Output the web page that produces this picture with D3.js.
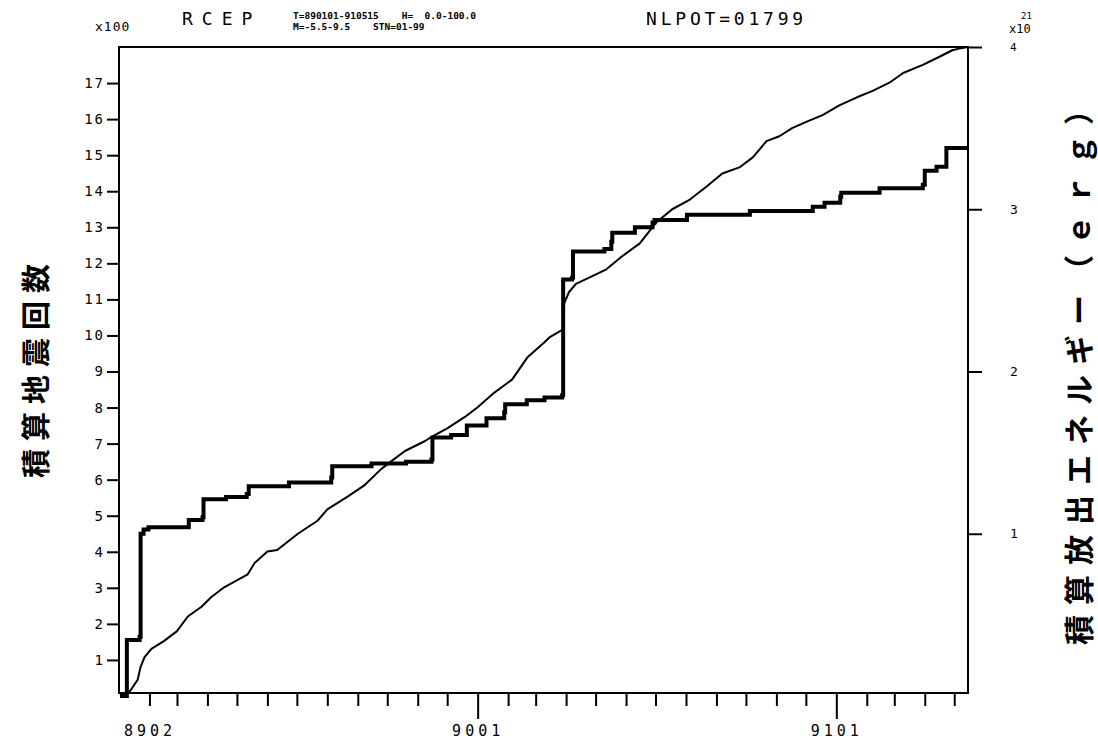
<!DOCTYPE html>
<html>
<head>
<meta charset="utf-8">
<script src="https://cdn.jsdelivr.net/npm/d3@7"></script>
<style>
  html, body { margin: 0; padding: 0; background: #fff; }
  svg { display: block; }
</style>
</head>
<body>
<svg id="chart" width="1098" height="745"></svg>
<script>
// ---- Data ----
// Cumulative number of earthquakes (x100), step series
const countDates = [
  "1989-01-02","1989-01-09","1989-01-22","1989-01-23","1989-01-26","1989-01-31",
  "1989-03-13","1989-03-27","1989-03-28","1989-04-20","1989-05-11","1989-05-13",
  "1989-06-23","1989-08-05","1989-08-06","1989-09-15","1989-10-20","1989-11-15",
  "1989-11-16","1989-12-05","1989-12-21","1990-01-10","1990-01-28","1990-01-29",
  "1990-02-20","1990-03-10","1990-03-28","1990-03-29","1990-04-07","1990-04-08",
  "1990-05-10","1990-05-17","1990-05-18","1990-06-10","1990-06-28","1990-06-30",
  "1990-08-02","1990-10-05","1990-12-08","1990-12-20","1991-01-05","1991-01-06",
  "1991-02-14","1991-03-30","1991-04-01","1991-04-13","1991-04-23","1991-05-15"
];
const countValues = [
  0.0, 1.55, 1.64, 4.50, 4.62, 4.68,
  4.88, 4.96, 5.46, 5.52, 5.60, 5.82,
  5.92, 6.06, 6.37, 6.45, 6.50, 6.56,
  7.17, 7.24, 7.50, 7.70, 7.87, 8.09,
  8.20, 8.28, 8.34, 11.55, 11.60, 12.33,
  12.40, 12.60, 12.85, 13.00, 13.13, 13.20,
  13.35, 13.45, 13.57, 13.68, 13.85, 13.96,
  14.08, 14.18, 14.57, 14.68, 15.20, 15.20
];

// Cumulative released energy (x10^21 erg)
const energyDates = [
  "1989-01-02","1989-01-10","1989-01-20","1989-01-23","1989-01-27","1989-02-03",
  "1989-02-16","1989-03-01","1989-03-12","1989-03-26","1989-04-05","1989-04-18",
  "1989-05-12","1989-05-19","1989-06-01","1989-06-11","1989-07-02","1989-07-22",
  "1989-08-01","1989-08-22","1989-09-08","1989-09-25","1989-10-08","1989-10-19",
  "1989-11-08","1989-11-16","1989-12-01","1989-12-19","1990-01-01","1990-01-18",
  "1990-02-05","1990-02-21","1990-03-10","1990-03-15","1990-03-29","1990-03-30",
  "1990-04-04","1990-04-11","1990-04-25","1990-05-12","1990-05-28","1990-06-15",
  "1990-07-02","1990-07-18","1990-08-05","1990-08-22","1990-09-07","1990-09-25",
  "1990-10-08","1990-10-22","1990-11-04","1990-11-17","1990-12-02","1990-12-18",
  "1991-01-04","1991-01-22","1991-02-07","1991-02-24","1991-03-10","1991-03-30",
  "1991-04-16","1991-04-29","1991-05-06","1991-05-15"
];
const energyValues = [
  0.00, 0.01, 0.10, 0.18, 0.24, 0.29,
  0.34, 0.40, 0.49, 0.55, 0.61, 0.67,
  0.75, 0.82, 0.89, 0.90, 1.00, 1.08,
  1.15, 1.23, 1.30, 1.40, 1.46, 1.51,
  1.57, 1.60, 1.65, 1.72, 1.78, 1.87,
  1.95, 2.09, 2.18, 2.21, 2.26, 2.42,
  2.49, 2.54, 2.58, 2.63, 2.71, 2.79,
  2.92, 3.00, 3.06, 3.14, 3.22, 3.26,
  3.32, 3.42, 3.45, 3.50, 3.54, 3.58,
  3.64, 3.69, 3.73, 3.78, 3.84, 3.89,
  3.94, 3.98, 3.99, 4.00
];

// Axis ticks / labels
const leftTickValues = [1,2,3,4,5,6,7,8,9,10,11,12,13,14,15,16,17];
const rightTickValues = [1,2,3,4];
const xLabelDates = ["1989-02-01","1990-01-01","1991-01-01"];
const xLabels = ["8902","9001","9101"];

const headerTitle = "RCEP";
const headerLine1 = "T=890101-910515    H=  0.0-100.0";
const headerLine2 = "M=-5.5-9.5    STN=01-99";
const headerCount = "NLPOT=01799";
const leftUnit = "x100";
const rightUnit = "x10";
const rightUnitExp = "21";
const leftTitle = "積算地震回数";
const rightTitle = "積算放出エネルギー（ｅｒｇ）";

// ---- Drawing ----
const parse = d3.utcParse("%Y-%m-%d");
const svg = d3.select("#chart");
const W = 1098, H = 745;
const plot = { left: 119, right: 968, top: 47, bottom: 693 };
const mono = "'DejaVu Sans Mono', 'Liberation Mono', monospace";
const cjk = "'Noto Sans CJK JP', 'Noto Sans CJK SC', sans-serif";

svg.append("rect").attr("width", W).attr("height", H).attr("fill", "#fff");

const x = d3.scaleUtc()
  .domain([parse("1989-01-01"), parse("1991-05-15")])
  .range([plot.left, plot.right]);
const yCount = d3.scaleLinear().domain([0, 18]).range([696, plot.top]);
const yEnergy = d3.scaleLinear().domain([0, 4]).range([696, plot.top]);

// frame
svg.append("rect")
  .attr("x", plot.left).attr("y", plot.top)
  .attr("width", plot.right - plot.left).attr("height", plot.bottom - plot.top)
  .attr("fill", "none").attr("stroke", "#000").attr("stroke-width", 2);

// left axis
const gL = svg.append("g").attr("transform", `translate(${plot.left},0)`)
  .call(d3.axisLeft(yCount).tickValues(leftTickValues).tickSize(12).tickPadding(2)
    .tickFormat(d => String(d)));
gL.select(".domain").remove();
gL.selectAll(".tick line").attr("stroke", "#000").attr("stroke-width", 2);
gL.selectAll(".tick text").attr("font-family", mono).attr("font-size", 14)
  .attr("letter-spacing", 2).attr("fill", "#000");

// right axis
const gR = svg.append("g").attr("transform", `translate(${plot.right},0)`)
  .call(d3.axisRight(yEnergy).tickValues(rightTickValues).tickSize(14).tickPadding(28)
    .tickFormat(d => String(d)));
gR.select(".domain").remove();
gR.selectAll(".tick line").attr("stroke", "#000").attr("stroke-width", 2);
gR.selectAll(".tick text").attr("font-family", mono).attr("font-size", 13).attr("fill", "#000");
gR.selectAll(".tick").filter(d => d === 4).select("text").attr("font-size", 11);

// bottom axis: monthly ticks, long ticks at January
const months = d3.utcMonth.range(parse("1989-02-01"), parse("1991-05-15"));
const labelMap = new Map(xLabelDates.map((d, i) => [parse(d).getTime(), xLabels[i]]));
const gB = svg.append("g").attr("transform", `translate(0,${plot.bottom})`)
  .call(d3.axisBottom(x).tickValues(months).tickSize(13).tickPadding(19)
    .tickFormat(d => labelMap.get(d.getTime()) || ""));
gB.select(".domain").remove();
gB.selectAll(".tick line").attr("stroke", "#000").attr("stroke-width", 2)
  .attr("y2", d => d.getUTCMonth() === 0 ? 26 : 13);
gB.selectAll(".tick text").attr("font-family", mono).attr("font-size", 15)
  .attr("letter-spacing", 4).attr("fill", "#000");

// series
const countData = countDates.map((d, i) => ({ date: parse(d), v: countValues[i] }));
const energyData = energyDates.map((d, i) => ({ date: parse(d), v: energyValues[i] }));

svg.append("path").datum(energyData)
  .attr("fill", "none").attr("stroke", "#000").attr("stroke-width", 2)
  .attr("stroke-linejoin", "round")
  .attr("d", d3.line().x(d => x(d.date)).y(d => yEnergy(d.v)));

svg.append("path").datum(countData)
  .attr("fill", "none").attr("stroke", "#000").attr("stroke-width", 4)
  .attr("d", d3.line().curve(d3.curveStepAfter).x(d => x(d.date)).y(d => yCount(d.v)));

// header
svg.append("text").attr("x", 95).attr("y", 31).attr("font-family", mono)
  .attr("font-size", 13).attr("letter-spacing", 1).text(leftUnit);
svg.append("text").attr("x", 182).attr("y", 25).attr("font-family", mono)
  .attr("font-size", 18).attr("letter-spacing", 9).text(headerTitle);
svg.append("text").attr("x", 293).attr("y", 19).attr("font-family", mono)
  .attr("font-size", 9.5).attr("font-weight", "bold")
  .style("white-space", "pre").text(headerLine1);
svg.append("text").attr("x", 293).attr("y", 30).attr("font-family", mono)
  .attr("font-size", 9.5).attr("font-weight", "bold")
  .style("white-space", "pre").text(headerLine2);
svg.append("text").attr("x", 646).attr("y", 25).attr("font-family", mono)
  .attr("font-size", 18).attr("letter-spacing", 3.8).text(headerCount);
svg.append("text").attr("x", 1009).attr("y", 32.5).attr("font-family", mono)
  .attr("font-size", 12).text(rightUnit);
svg.append("text").attr("x", 1021).attr("y", 19).attr("font-family", mono)
  .attr("font-size", 9).text(rightUnitExp);

// axis titles
svg.append("text")
  .attr("transform", `translate(34,367) rotate(-90)`)
  .attr("text-anchor", "middle").attr("dominant-baseline", "central")
  .attr("font-family", cjk).attr("font-size", 29).attr("font-weight", "bold")
  .attr("letter-spacing", 8)
  .text(leftTitle);
svg.append("text")
  .attr("transform", `translate(1077,365) rotate(-90)`)
  .attr("text-anchor", "middle").attr("dominant-baseline", "central")
  .attr("font-family", cjk).attr("font-size", 30).attr("font-weight", "bold")
  .attr("letter-spacing", 10)
  .text(rightTitle);
</script>
</body>
</html>
